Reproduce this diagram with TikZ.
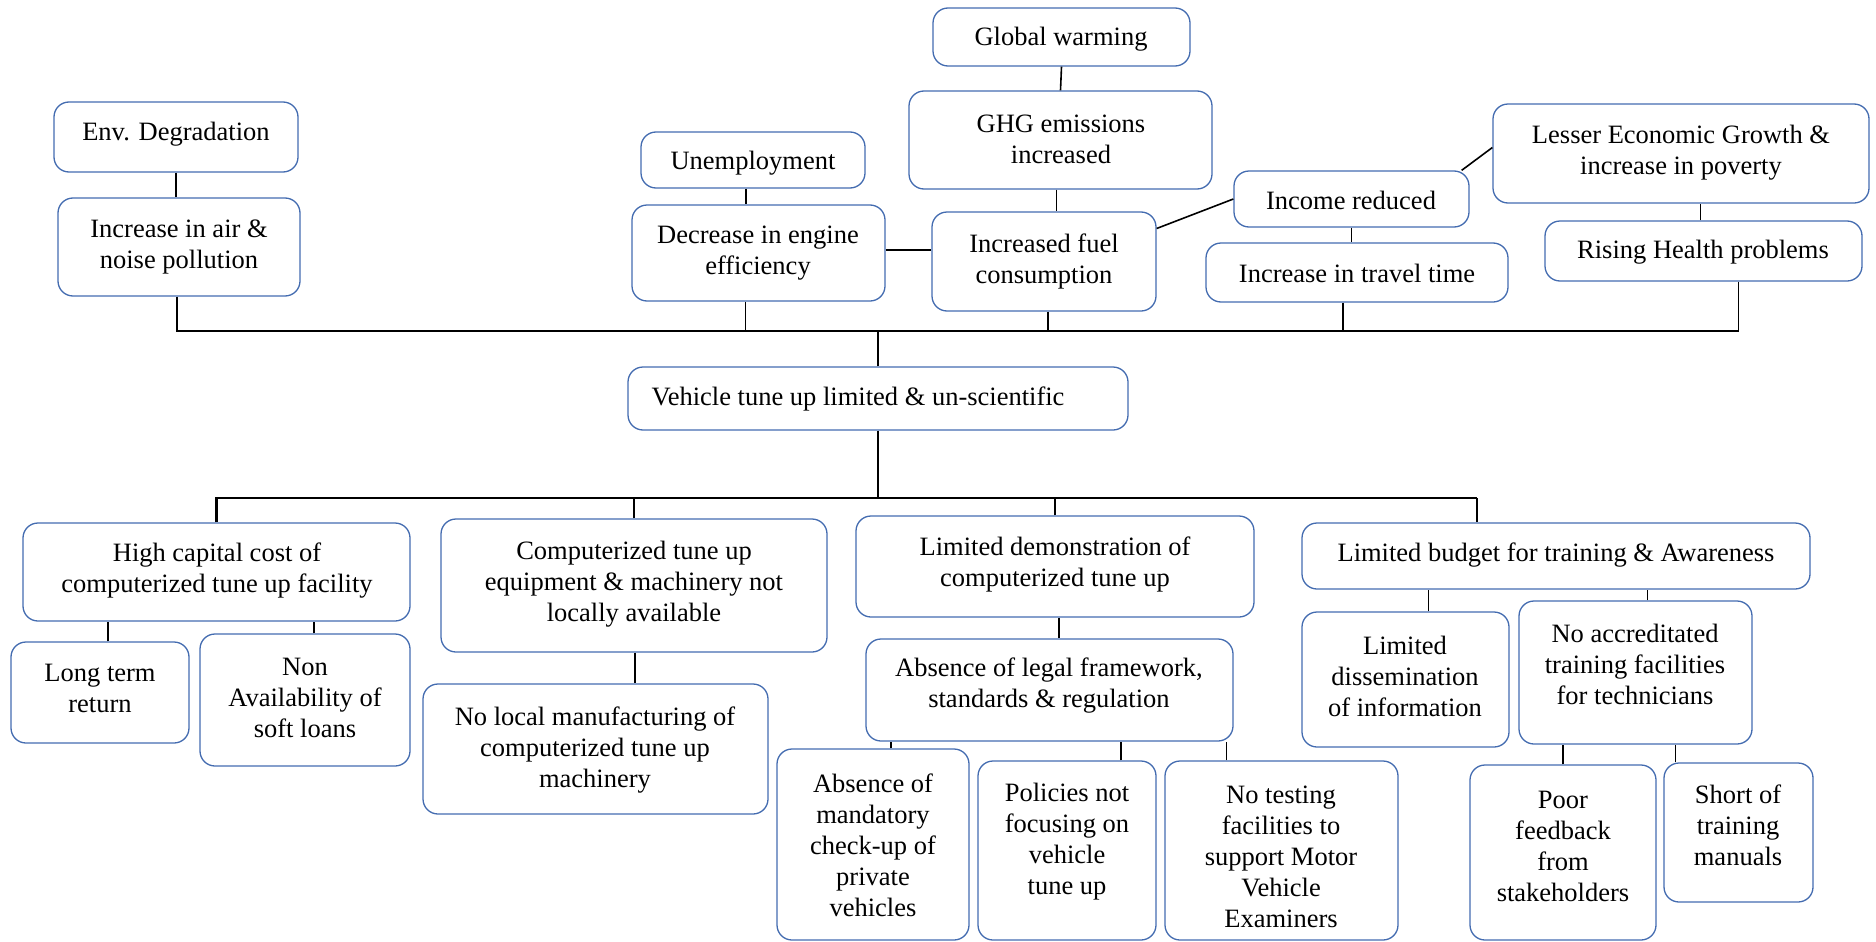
\documentclass[tikz,border=0pt]{standalone}
\usepackage{fontspec}
\setmainfont{Liberation Serif}
\definecolor{boxblue}{RGB}{68,108,176}
\tikzset{
  box/.style={draw=boxblue, line width=1.3pt, rounded corners=15pt, inner sep=0pt},
  txt/.style={font=\fontsize{26.5}{31}\selectfont, align=center, inner sep=0pt},
  conn/.style={draw=black, line width=1.6pt},
  busline/.style={draw=black, line width=2.8pt}
}
% name, x1, y1, x2, y2, text x, text y, text
\newcommand\bx[8]{%
  \node[box, minimum width={#4-#2}, minimum height={#5-#3}] (#1) at ({(#2+#4)/2},{(#3+#5)/2}) {};
  \node[txt] (#1t) at (#6,{#7+2}) {#8};}
\begin{document}
\begin{tikzpicture}[x=1pt,y=-1pt]
\useasboundingbox (0,0) rectangle (1876,942);
% ---- top part
\bx{gw}{933}{8}{1190}{66}{1061}{37}{Global warming}
\bx{ghg}{909}{91}{1212}{189}{1061}{137}{GHG emissions\\increased}
\bx{env}{54}{102}{298}{172}{176}{132}{Env. Degradation}
\bx{air}{58}{198}{300}{296}{179}{245}{Increase in air \&\\noise pollution}
\bx{unemp}{641}{132}{865}{188}{753}{161}{Unemployment}
\bx{dec}{632}{205}{885}{301}{758}{251}{Decrease in engine\\efficiency}
\bx{fuel}{932}{212}{1156}{311}{1044}{259}{Increased fuel\\consumption}
\bx{income}{1234}{171}{1469}{227}{1351}{198}{Income reduced}
\bx{travel}{1206}{243}{1508}{302}{1357}{271}{Increase in travel time}
\bx{lesser}{1493}{104}{1869}{203}{1681}{151}{Lesser Economic Growth \&\\increase in poverty}
\bx{rising}{1545}{221}{1862}{281}{1703}{250}{Rising Health problems}
\bx{veh}{628}{367}{1128}{430}{858}{397}{Vehicle tune up limited \& un-scientific}
% ---- bottom part
\bx{hc}{23}{523}{410}{621}{217}{569}{High capital cost of\\computerized tune up facility}
\bx{long}{11}{642}{189}{743}{100}{686}{Long term\\return}
\bx{non}{200}{634}{410}{766}{305}{696}{Non\\Availability of\\soft loans}
\bx{comp}{441}{519}{827}{652}{634}{582}{Computerized tune up\\equipment \& machinery not\\locally available}
\bx{noloc}{423}{684}{768}{814}{595}{748}{No local manufacturing of\\computerized tune up\\machinery}
\bx{demo}{856}{516}{1254}{617}{1055}{562}{Limited demonstration of\\computerized tune up}
\bx{legal}{866}{639}{1233}{741}{1049}{684}{Absence of legal framework,\\standards \& regulation}
\bx{absm}{777}{749}{969}{940}{873}{843}{Absence of\\mandatory\\check-up of\\private\\vehicles}
\bx{pol}{978}{761}{1156}{940}{1067}{840}{Policies not\\focusing on\\vehicle\\tune up}
\bx{notest}{1165}{761}{1398}{940}{1281}{855}{No testing\\facilities to\\support Motor\\Vehicle\\Examiners}
\bx{budget}{1302}{523}{1810}{589}{1556}{553}{Limited budget for training \& Awareness}
\bx{dissem}{1302}{612}{1509}{747}{1405}{674}{Limited\\dissemination\\of information}
\bx{accred}{1519}{601}{1752}{744}{1635}{662}{No accreditated\\training facilities\\for technicians}
\bx{poor}{1470}{765}{1656}{940}{1563}{844}{Poor\\feedback\\from\\stakeholders}
\bx{short}{1664}{763}{1813}{902}{1738}{823}{Short of\\training\\manuals}
% ---- bus coordinates
\coordinate (bus) at (878,331);
\coordinate (bus2) at (878,498);
% ---- top connectors
\draw[conn] (gw.south) -- (ghg.north);
\draw[conn] ([xshift=-4]ghg.south) -- ([xshift=-4]ghg.south |- fuel.north);
\draw[conn] (env.south) -- (env.south |- air.north);
\draw[conn] ([xshift=-7]unemp.south) -- ([xshift=-7]unemp.south |- dec.north);
\draw[conn] ([yshift=3]dec.east) -- ([yshift=3]dec.east -| fuel.west);
\draw[conn] ([yshift=33]fuel.east) -- (income.west);
\draw[conn] ([xshift=-8]income.north east) -- ([yshift=6]lesser.west);
\draw[conn] (income.south) -- (income.south |- travel.north);
\draw[conn] ([xshift=-3]rising.north) -- ([xshift=-3]rising.north |- lesser.south);
\draw[busline] ([xshift=-2]air.south) -- ([xshift=-2]air.south |- bus) -- ([xshift=35]rising.south |- bus);
\draw[conn] ([xshift=35]rising.south) -- ([xshift=35]rising.south |- bus);
\draw[conn] ([xshift=-13]dec.south) -- ([xshift=-13]dec.south |- bus);
\draw[conn] ([xshift=4]fuel.south) -- ([xshift=4]fuel.south |- bus);
\draw[conn] ([xshift=-14]travel.south) -- ([xshift=-14]travel.south |- bus);
\draw[conn] (veh.north) -- (veh.north |- bus);
% ---- bottom connectors
\draw[conn] (veh.south) -- (veh.south |- bus2);
\draw[busline] (hc.north) -- (hc.north |- bus2) -- ([xshift=-79]budget.north |- bus2);
\draw[conn] ([xshift=-79]budget.north |- bus2) -- ([xshift=-79]budget.north);
\draw[conn] (comp.north) -- (comp.north |- bus2);
\draw[conn] (demo.north) -- (demo.north |- bus2);
\draw[conn] ([xshift=8]long.north) -- ([xshift=8]long.north |- hc.south);
\draw[conn] ([xshift=9]non.north) -- ([xshift=9]non.north |- hc.south);
\draw[conn] ([xshift=1]comp.south) -- ([xshift=1]comp.south |- noloc.north);
\draw[conn] ([xshift=4]demo.south) -- ([xshift=4]demo.south |- legal.north);
\draw[conn] ([xshift=18]absm.north) -- ([xshift=18]absm.north |- legal.south);
\draw[conn] ([xshift=54]pol.north) -- ([xshift=54]pol.north |- legal.south);
\draw[conn] ([xshift=-55]notest.north) -- ([xshift=-55]notest.north |- legal.south);
\draw[conn] ([xshift=23]dissem.north) -- ([xshift=23]dissem.north |- budget.south);
\draw[conn] ([xshift=12]accred.north) -- ([xshift=12]accred.north |- budget.south);
\draw[conn] (poor.north) -- (poor.north |- accred.south);
\draw[conn] ([xshift=-63]short.north) -- ([xshift=-63]short.north |- accred.south);
\end{tikzpicture}
\end{document}
